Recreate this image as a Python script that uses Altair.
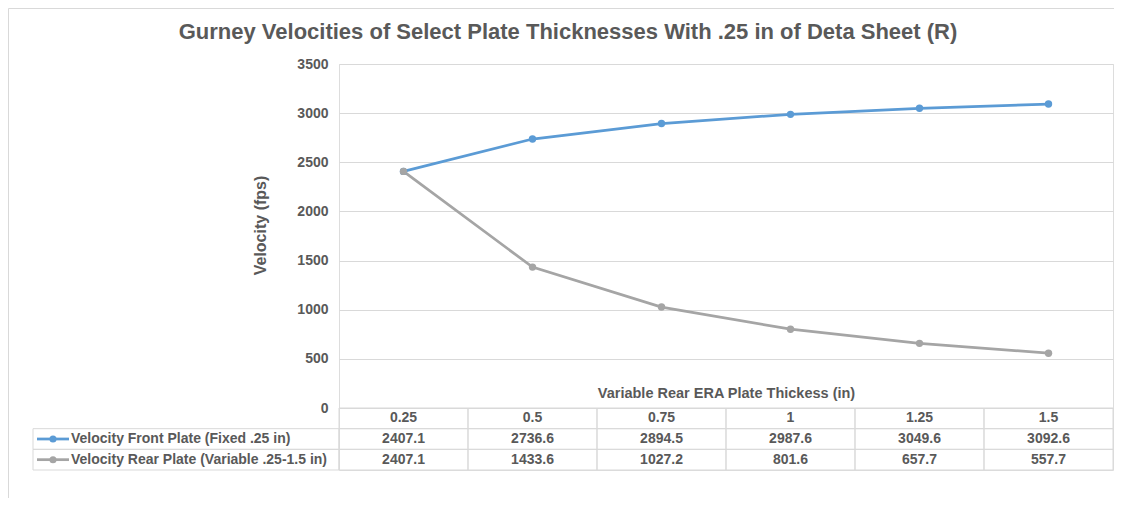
import altair as alt
import pandas as pd

# ---- data ----
categories = ["0.25", "0.5", "0.75", "1", "1.25", "1.5"]
front_plate = [2407.1, 2736.6, 2894.5, 2987.6, 3049.6, 3092.6]
rear_plate = [2407.1, 1433.6, 1027.2, 801.6, 657.7, 557.7]
series_names = [
    "Velocity Front Plate (Fixed .25 in)",
    "Velocity Rear Plate  (Variable .25-1.5 in)",
]
series_colors = ["#5B9BD5", "#A5A5A5"]
y_ticks = [0, 500, 1000, 1500, 2000, 2500, 3000, 3500]
header_row = "Thickness"

# ---- tables built from the arrays ----
series_values = [front_plate, rear_plate]
lines_df = pd.DataFrame(
    [
        {"category": c, "series": s, "value": v}
        for s, vals in zip(series_names, series_values)
        for c, v in zip(categories, vals)
    ]
)
cells = [{"category": c, "row": header_row, "label": c} for c in categories]
for s, vals in zip(series_names, series_values):
    cells += [{"category": c, "row": s, "label": f"{v:.1f}"} for c, v in zip(categories, vals)]
table_df = pd.DataFrame(cells)
legend_df = pd.DataFrame({"row": series_names, "series": series_names})

FONT = "Liberation Sans"
TXT = "#595959"
GRID = "#D9D9D9"
FS = 14

W, H = 774, 406
PLOT_H = 344

x_scale = alt.Scale(type="band", domain=categories, paddingInner=0, paddingOuter=0)
x_axis = alt.Axis(
    title="Variable Rear ERA Plate Thickess (in)",
    labels=False, ticks=False, domain=False, grid=False,
    titleY=-77, titleBaseline="middle", titleFont=FONT, titleFontSize=14.5,
    titleFontWeight="bold", titleColor=TXT,
)
row_scale = alt.Scale(type="band", domain=[header_row] + series_names, range=[PLOT_H, H],
                      paddingInner=0, paddingOuter=0)
color = alt.Color("series:N", scale=alt.Scale(domain=series_names, range=series_colors), legend=None)


def X(band=0.5):
    return alt.X("category:N", scale=x_scale, axis=x_axis, bandPosition=band)


def Yrow(band=None):
    if band is None:
        return alt.Y("row:N", scale=row_scale, axis=None)
    return alt.Y("row:N", scale=row_scale, axis=None, bandPosition=band)


border = alt.Chart(legend_df).mark_rect(fillOpacity=0, stroke=GRID, strokeWidth=1).encode(
    x=alt.value(-330.5), x2=alt.value(800), y=alt.value(-55.5), y2=alt.value(470)
).transform_filter("datum.row == '%s'" % series_names[0])

lines = alt.Chart(lines_df).mark_line(
    strokeWidth=2.75,
    point=alt.OverlayMarkDef(filled=True, size=55, opacity=1),
).encode(
    x=X(),
    y=alt.Y(
        "value:Q",
        scale=alt.Scale(domain=[0, 3500], range=[PLOT_H, 0], nice=False),
        axis=alt.Axis(
            values=y_ticks, format="d", title="Velocity (fps)", grid=True, gridColor=GRID,
            gridWidth=1, ticks=False, domain=False, labelPadding=11, labelFont=FONT,
            labelFontSize=FS, labelFontWeight="bold", labelColor=TXT,
            titleX=-79, titleY=161, titleAngle=270, titleBaseline="middle", titleAlign="center",
            titleFont=FONT, titleFontSize=16, titleFontWeight="bold", titleColor=TXT,
        ),
    ),
    color=color,
)

grid_cells = alt.Chart(table_df).mark_rect(fillOpacity=0, stroke=GRID, strokeWidth=1).encode(
    x=alt.X("category:N", scale=x_scale, axis=x_axis),
    y=Yrow(),
)

cell_text = alt.Chart(table_df).mark_text(
    font=FONT, fontSize=FS, fontWeight="bold", color=TXT, baseline="middle"
).encode(x=X(), y=Yrow(0.5), text="label:N")

legend_box = alt.Chart(legend_df).mark_rect(fillOpacity=0, stroke=GRID, strokeWidth=1).encode(
    x=alt.value(-306), x2=alt.value(0), y=Yrow()
)
legend_line = alt.Chart(legend_df).mark_rule(strokeWidth=2.75).encode(
    x=alt.value(-302), x2=alt.value(-270), y=Yrow(0.5), color=color
)
legend_dot = alt.Chart(legend_df).mark_circle(size=50, opacity=1).encode(
    x=alt.value(-286), y=Yrow(0.5), color=color
)
legend_text = alt.Chart(legend_df).mark_text(
    font=FONT, fontSize=FS, fontWeight="bold", color=TXT, align="left", baseline="middle"
).encode(x=alt.value(-268), y=Yrow(0.5), text="series:N")

chart = alt.layer(
    border, grid_cells, legend_box, lines, cell_text, legend_line, legend_dot, legend_text
).resolve_scale(y="independent").properties(
    width=W,
    height=H,
    autosize=alt.AutoSizeParams(type="none"),
    padding={"left": 331, "top": 56, "right": 1, "bottom": 28},
    title=alt.TitleParams(
        text="Gurney Velocities of Select Plate Thicknesses With .25 in of Deta Sheet (R)",
        anchor="middle", frame="group", dx=-158, offset=0, baseline="middle", dy=46,
        font=FONT, fontSize=22, fontWeight="bold", color=TXT,
    ),
).configure_view(stroke=None).configure(background="white")

chart.save("out.html", embed_options={"renderer": "svg", "actions": False})
